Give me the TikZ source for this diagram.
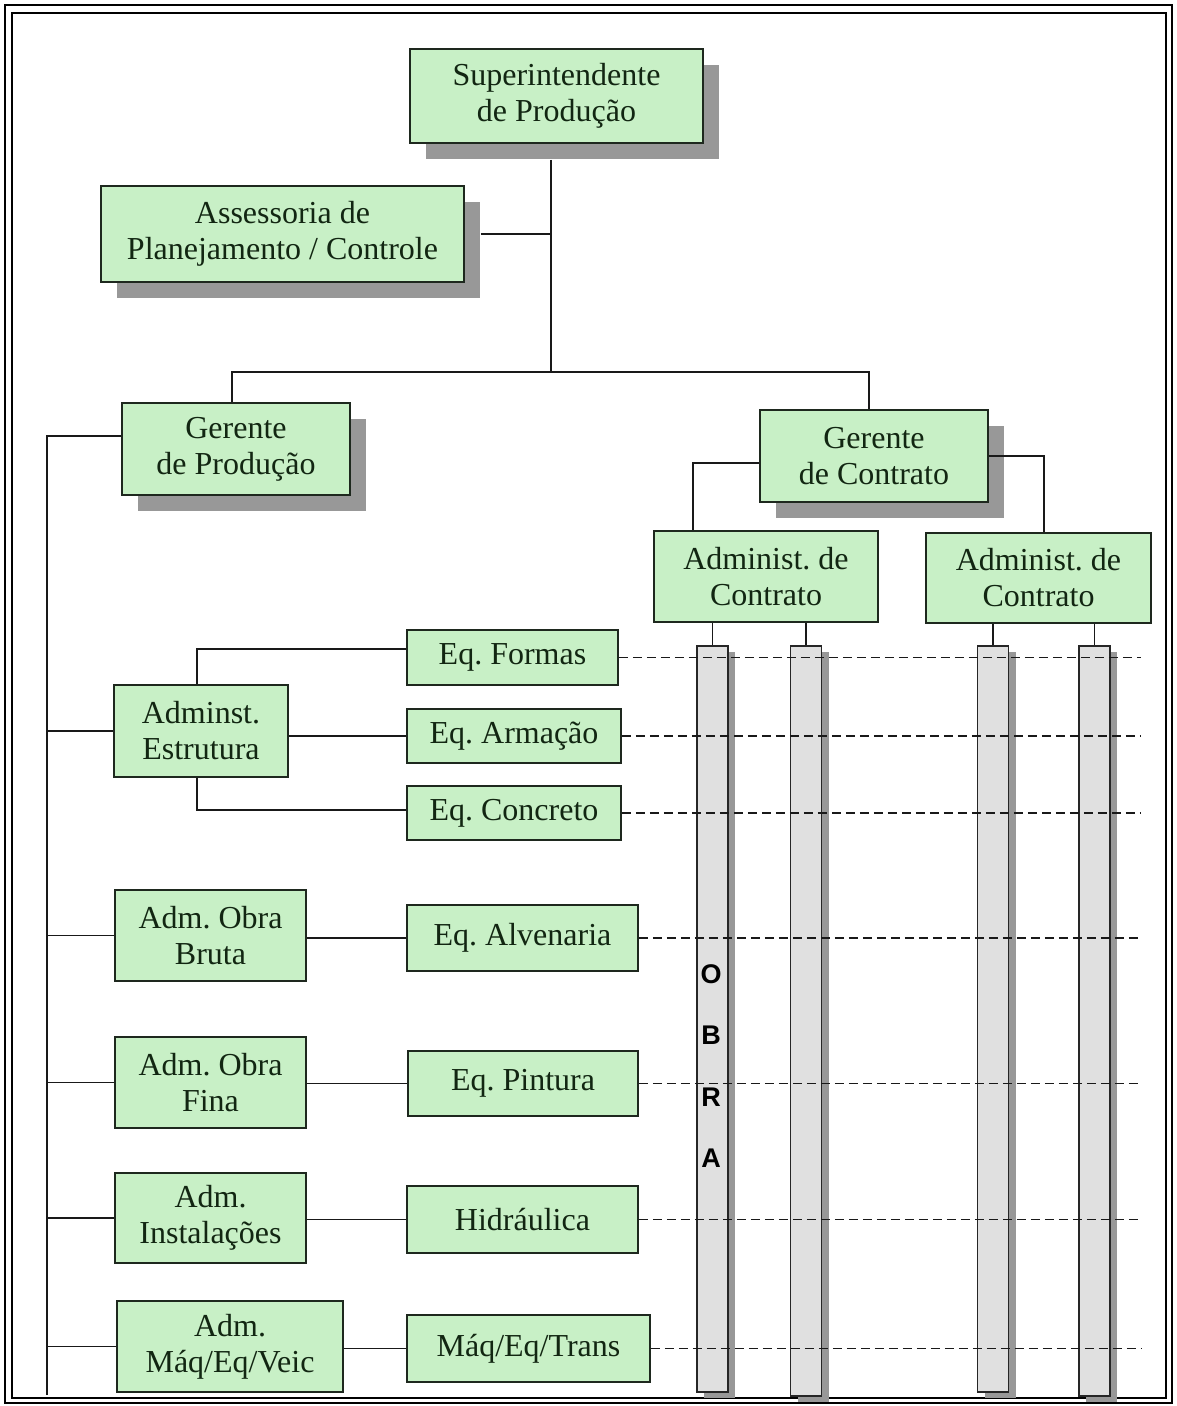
\documentclass[tikz,border=0pt]{standalone}
\usepackage{fontspec}
\setmainfont{Liberation Serif}
\newfontfamily\obrafont{Liberation Sans}
\usetikzlibrary{shadows,calc}
\frenchspacing
\definecolor{boxgreen}{RGB}{200,240,198}
\definecolor{shgray}{RGB}{152,152,152}
\definecolor{txt}{RGB}{18,38,18}
\definecolor{bargray}{RGB}{224,224,224}
\definecolor{edge}{RGB}{30,40,30}
\begin{document}
\begin{tikzpicture}[x=1pt,y=-1pt,
  box/.style={draw=edge, line width=1.6pt, fill=boxgreen, text=txt, align=center,
    font=\fontsize{32}{36}\selectfont, inner sep=0pt},
  shbox/.style={box, drop shadow={shadow xshift=16pt, shadow yshift=-16pt, fill=shgray, opacity=1}},
  bar/.style={draw=black!85, line width=1.6pt, fill=bargray, inner sep=0pt, minimum width=31pt,
    drop shadow={shadow xshift=7pt, shadow yshift=-6pt, fill=shgray, opacity=1}},
  link/.style={draw=black!90, line width=1.7pt},
  dashlink/.style={draw=black!90, line width=1.7pt, dash pattern=on 9pt off 5pt}
]
\useasboundingbox (0,0) rectangle (1176,1406);
\fill[white] (0,0) rectangle (1176,1406);
% frame
\draw[line width=1.8pt] (5,5) rectangle (1172,1403);
\draw[line width=1.4pt] (12,13) rectangle (1166,1398);

% bars
\node[bar, minimum height=746pt] (bar1) at (712.5,1019) {};
\node[bar, minimum height=750pt] (bar2) at (806,1021) {};
\node[bar, minimum height=746pt] (bar3) at (993,1019) {};
\node[bar, minimum height=750pt] (bar4) at (1094.5,1021) {};
\node[font=\obrafont\bfseries\fontsize{27}{61.5}\selectfont, align=center, inner sep=0pt] (obra) at (711,1066) {O\\B\\R\\A};

% boxes with shadow
\node[shbox, minimum width=293pt, minimum height=94pt] (sup) at (556.5,96) {Superintendente\\de Produção};
\node[shbox, minimum width=363pt, minimum height=96pt] (ass) at (282.5,234) {Assessoria de\\Planejamento / Controle};
\node[shbox, minimum width=228pt, minimum height=92pt] (gp) at (236,449) {Gerente\\de Produção};
\node[shbox, minimum width=228pt, minimum height=92pt] (gc) at (874,456) {Gerente\\de Contrato};

% boxes without shadow
\node[box, minimum width=224pt, minimum height=91pt] (ac1) at (766,576.5) {Administ. de\\Contrato};
\node[box, minimum width=225pt, minimum height=90pt] (ac2) at (1038.5,578) {Administ. de\\Contrato};
\node[box, minimum width=174pt, minimum height=92pt] (ae) at (201,731) {Adminst.\\Estrutura};
\node[box, minimum width=211pt, minimum height=55pt] (ef) at (512.5,657.5) {Eq. Formas};
\node[box, minimum width=214pt, minimum height=54pt] (ea) at (514,736) {Eq. Armação};
\node[box, minimum width=214pt, minimum height=54pt] (ec) at (514,813) {Eq. Concreto};
\node[box, minimum width=191pt, minimum height=91pt] (ob) at (210.5,935.5) {Adm. Obra\\Bruta};
\node[box, minimum width=231pt, minimum height=66pt] (eal) at (522.5,938) {Eq. Alvenaria};
\node[box, minimum width=191pt, minimum height=91pt] (of) at (210.5,1082.5) {Adm. Obra\\Fina};
\node[box, minimum width=230pt, minimum height=65pt] (ep) at (523,1083.5) {Eq. Pintura};
\node[box, minimum width=191pt, minimum height=90pt] (ai) at (210.5,1218) {Adm.\\Instalações};
\node[box, minimum width=231pt, minimum height=67pt] (hid) at (522.5,1219.5) {Hidráulica};
\node[box, minimum width=226pt, minimum height=91pt] (am) at (230,1346.5) {Adm.\\Máq/Eq/Veic};
\node[box, minimum width=243pt, minimum height=67pt] (mq) at (528.5,1348.5) {Máq/Eq/Trans};

% junction coordinates
\coordinate (j) at (551,372);
\coordinate (trtop) at (47,436);
\coordinate (trbot) at (47,1395);
\coordinate (dend) at (1141,0);

% top connectors
\draw[link] ($(sup.south -| j)+(0,16)$) -- (j);
\draw[link] ($(ass.east)+(16,0)$) -- (ass.east -| j);
\draw[link] (gp.north -| 232,0) |- (j) -| (gc.north -| 869,0);
\draw[link] ([yshift=-7pt]gc.west) -| ([xshift=-73pt]ac1.north);
\draw[link] (gc.east) -| ([xshift=5.5pt]ac2.north);
\draw[link] (bar1.north) -- (bar1.north |- ac1.south);
\draw[link] (bar2.north) -- (bar2.north |- ac1.south);
\draw[link] (bar3.north) -- (bar3.north |- ac2.south);
\draw[link] (bar4.north) -- (bar4.north |- ac2.south);

% trunk
\draw[link] (trbot) -- (trtop) -- (trtop -| gp.west);
\draw[link] (ae.west -| trtop) -- (ae.west);
\draw[link] (ob.west -| trtop) -- (ob.west);
\draw[link] (of.west -| trtop) -- (of.west);
\draw[link] (ai.west -| trtop) -- (ai.west);
\draw[link] (am.west -| trtop) -- (am.west);

% admin to teams
\draw[link] ([xshift=-4pt]ae.north) |- ([yshift=8.5pt]ef.west);
\draw[link] (ae.east |- ea.west) -- (ea.west);
\draw[link] ([xshift=-4pt]ae.south) |- ([yshift=3pt]ec.west);
\draw[link] (ob.east |- eal.west) -- (eal.west);
\draw[link] (of.east |- ep.west) -- (ep.west);
\draw[link] (ai.east |- hid.west) -- (hid.west);
\draw[link] (am.east |- mq.west) -- (mq.west);

% dashed lines
\draw[dashlink] (ef.east) -- (ef.east -| dend);
\draw[dashlink] (ea.east) -- (ea.east -| dend);
\draw[dashlink] (ec.east) -- (ec.east -| dend);
\draw[dashlink] (eal.east) -- (eal.east -| dend);
\draw[dashlink] (ep.east) -- (ep.east -| dend);
\draw[dashlink] (hid.east) -- (hid.east -| dend);
\draw[dashlink] (mq.east) -- (mq.east -| dend);
\end{tikzpicture}
\end{document}
